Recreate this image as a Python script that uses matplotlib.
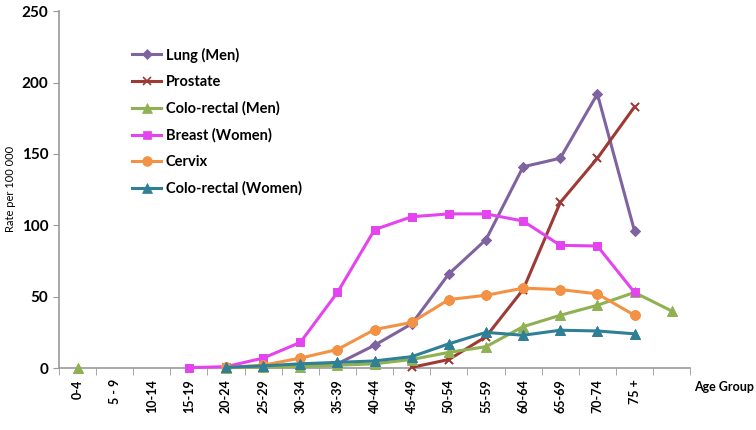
import numpy as np
import matplotlib.pyplot as plt

nan = np.nan

age_groups = ["0-4", "5 - 9", "10-14", "15-19", "20-24", "25-29", "30-34", "35-39",
              "40-44", "45-49", "50-54", "55-59", "60-64", "65-69", "70-74", "75 +", ""]

lung_men = [nan, nan, nan, nan, 0.5, 1, 1.5, 3, 16, 31, 66, 90, 141, 147, 192, 96, nan]
prostate = [nan, nan, nan, nan, nan, nan, nan, nan, nan, 0.5, 6, 22, 55, 116, 147, 183, nan]
colo_men = [0, nan, nan, nan, 0.3, 0.5, 1, 2, 3, 6, 11, 15, 29, 37, 44, 53, 40]
breast = [nan, nan, nan, 0.3, 1, 7, 18, 53, 97, 106, 108, 108, 103, 86, 85.5, 53, nan]
cervix = [nan, nan, nan, nan, 0.5, 2, 7, 13, 27, 32, 48, 51, 56, 55, 52, 37, nan]
colo_women = [nan, nan, nan, nan, 0.5, 1.5, 3, 4, 5, 8, 17, 25, 23, 26.5, 26, 24, nan]

series = [
    ("Lung (Men)", lung_men, "#7F62A0", "D", 5),
    ("Prostate", prostate, "#9E3A35", "x", 6),
    ("Colo-rectal (Men)", colo_men, "#8FB152", "^", 7),
    ("Breast (Women)", breast, "#E444F0", "s", 6),
    ("Cervix", cervix, "#F39244", "o", 7),
    ("Colo-rectal (Women)", colo_women, "#2F7F97", "^", 7),
]

plt.rcParams["font.family"] = ["Lato", "DejaVu Sans"]

fig = plt.figure(figsize=(7.56, 4.30), dpi=100)
ax = fig.add_axes([0.078, 0.144, 0.835, 0.830])

x = np.arange(len(age_groups))
for label, vals, color, marker, ms in series:
    v = np.array(vals, dtype=float)
    mew = 1.2 if marker == "x" else 0.5
    ax.plot(x, v, color=color, linewidth=2.2, marker=marker, markersize=ms,
            markeredgewidth=mew, markeredgecolor=color, label=label, clip_on=False)
    # isolated points (like the 0-4 value) still get a marker
    ax.plot(x, v, linestyle="none", marker=marker, markersize=ms, clip_on=False,
            color=color, markeredgecolor=color, markeredgewidth=mew)

ax.set_xlim(-0.5, len(age_groups) - 0.5)
ax.set_ylim(0, 250)
ax.set_yticks(np.arange(0, 251, 50))
ax.set_yticklabels([str(t) for t in range(0, 251, 50)], fontsize=11, fontweight="bold")
ax.set_xticks(x)
ax.set_xticklabels(age_groups, rotation=90, fontsize=9, fontweight="bold")
ax.set_xticks(np.arange(-0.5, len(age_groups), 1), minor=True)
ax.tick_params(axis="x", which="major", length=0, pad=8)
ax.tick_params(axis="x", which="minor", length=5, color="#999999", direction="out")
ax.tick_params(axis="y", length=4, color="#999999", direction="out")

for s in ("top", "right"):
    ax.spines[s].set_visible(False)
for s in ("left", "bottom"):
    ax.spines[s].set_color("#999999")
    ax.spines[s].set_linewidth(1.2)
    ax.spines[s].set_zorder(0)

fig.text(0.014, 0.56, "Rate per 100 000", fontsize=8, rotation=90, ha="center", va="center")
fig.text(0.918, 0.10, "Age Group", fontsize=9, fontweight="bold", ha="left", va="center")

leg = ax.legend(loc="upper left", bbox_to_anchor=(0.095, 0.935), frameon=False,
                fontsize=10.5, labelspacing=0.85, handlelength=2.0, handletextpad=0.3)
for t in leg.get_texts():
    t.set_fontweight("bold")

fig.savefig("out.png", dpi=100)
